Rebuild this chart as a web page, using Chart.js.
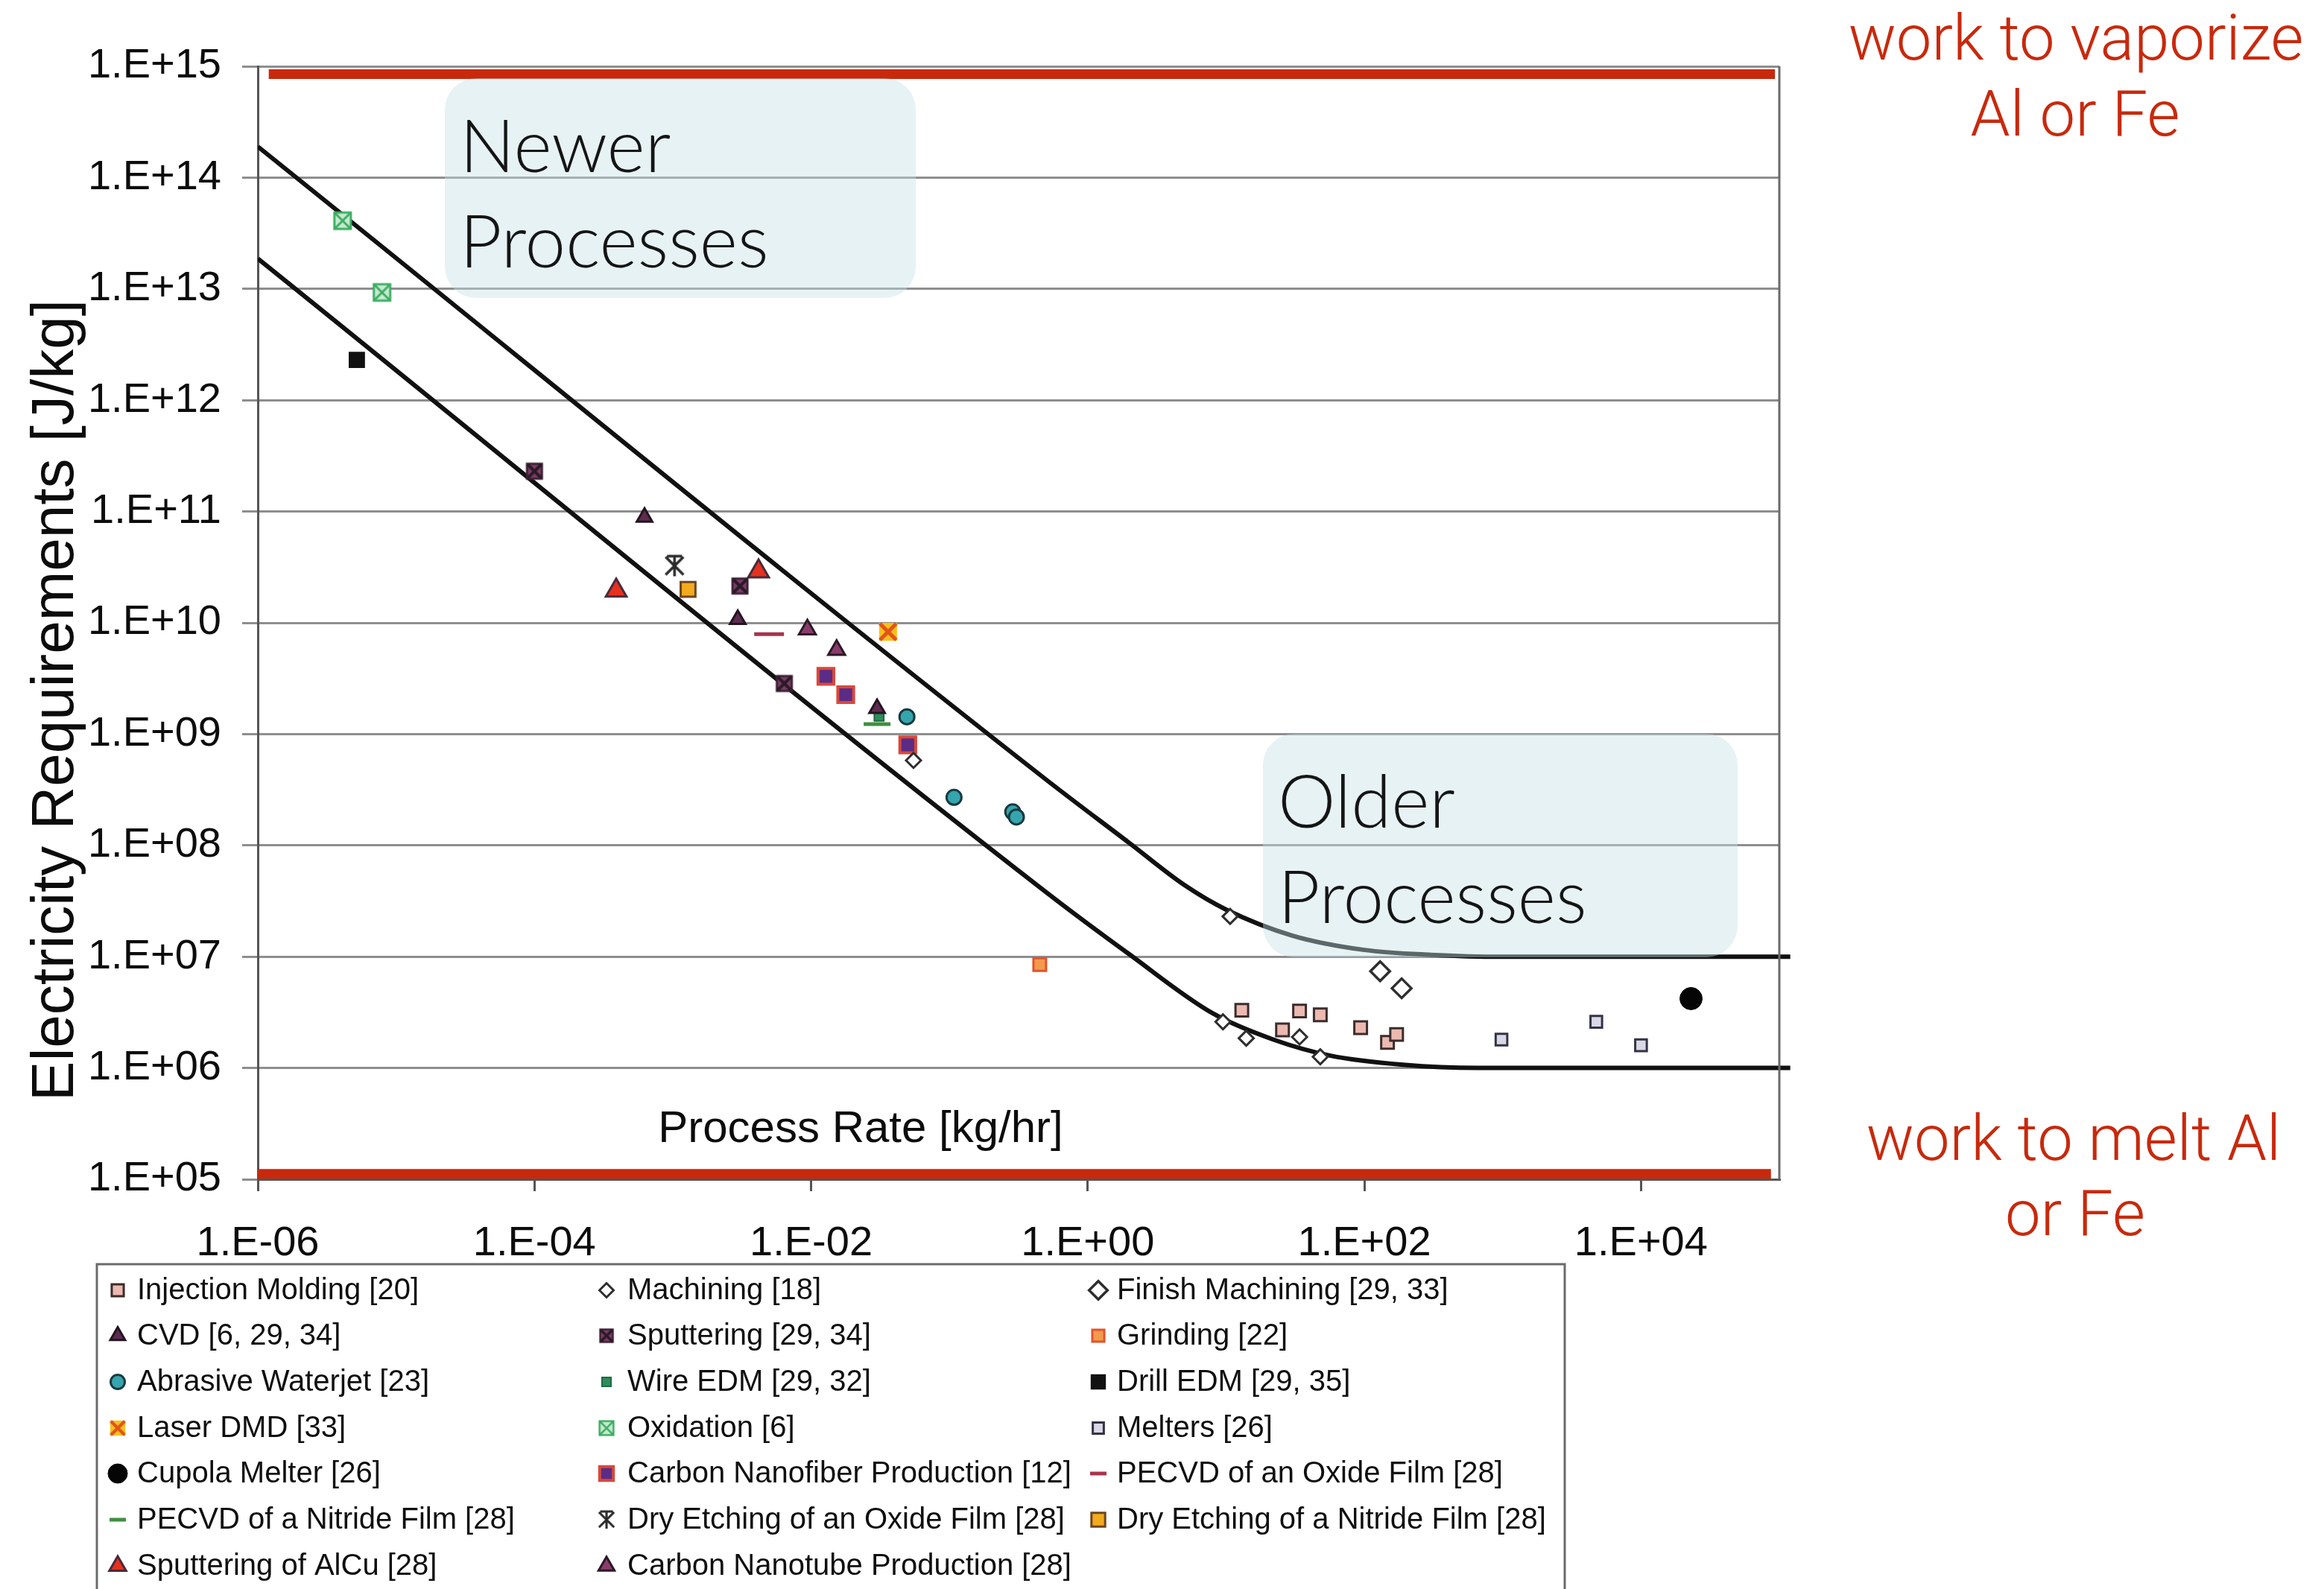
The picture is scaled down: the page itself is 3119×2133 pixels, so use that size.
<!DOCTYPE html>
<html>
<head>
<meta charset="utf-8">
<script src="https://cdn.jsdelivr.net/npm/chart.js@4.4.1/dist/chart.umd.min.js"></script>
<style>
  html, body { margin: 0; padding: 0; background: #ffffff; }
  canvas { display: block; }
</style>
</head>
<body>
<canvas id="chart" width="3119" height="2133"></canvas>
<script>
// Process rate [kg/hr] and electricity requirement [J/kg] for each manufacturing process.
const injectionMolding   = [[13, 3.3e6], [34, 3.25e6], [48, 3.0e6], [25.6, 2.2e6], [94, 2.3e6], [147, 1.7e6], [171, 2.0e6]];
const machining          = [[0.055, 5.8e8], [10.7, 2.3e7], [9.5, 2.6e6], [14, 1.85e6], [34, 1.9e6], [48, 1.26e6]];
const finishMachining    = [[130, 7.4e6], [186, 5.2e6]];
const cvd                = [[6.25e-4, 8.9e10], [2.95e-3, 1.07e10], [0.030, 1.7e9]];
const sputtering         = [[1.0e-4, 2.3e11], [3.06e-3, 2.14e10], [6.4e-3, 2.85e9]];
const grinding           = [[0.45, 8.5e6]];
const abrasiveWaterjet   = [[0.0493, 1.43e9], [0.108, 2.7e8], [0.287, 2.0e8], [0.305, 1.8e8]];
const wireEdm            = [[0.031, 1.45e9]];
const drillEdm           = [[5.2e-6, 2.3e12]];
const laserDmd           = [[0.036, 8.3e9]];
const oxidation          = [[4.1e-6, 4.1e13], [7.9e-6, 9.3e12]];
const melters            = [[980, 1.8e6], [4750, 2.6e6], [1.0e4, 1.6e6]];
const cupolaMelter       = [[2.3e4, 4.2e6]];
const carbonNanofiber    = [[0.0128, 3.3e9], [0.0178, 2.26e9], [0.05, 8.0e8]];
const pecvdOxide         = [[4.97e-3, 7.9e9]];
const pecvdNitride       = [[0.030, 1.23e9]];
const dryEtchOxide       = [[1.03e-3, 3.25e10]];
const dryEtchNitride     = [[1.29e-3, 2.0e10]];
const sputteringAlCu     = [[3.9e-4, 1.95e10], [4.17e-3, 2.9e10]];
const carbonNanotube     = [[9.4e-3, 8.7e9], [0.0153, 5.7e9]];

// Envelope curves bounding the data
const upperBound = [[1e-6, 1.9e14], [0.5, 3.9e8], [2, 1.05e8], [5, 4.4e7], [10, 2.65e7], [30, 1.55e7], [100, 1.15e7], [300, 1.04e7], [1000, 1.0e7], [1.2e5, 1.0e7]];
const lowerBound = [[1e-6, 1.87e13], [0.5, 3.8e7], [2, 1.05e7], [8, 3.1e6], [22, 1.8e6], [57, 1.29e6], [190, 1.07e6], [660, 1.0e6], [1.2e5, 1.0e6]];

// Reference levels: work to vaporize / work to melt Al or Fe
const vaporizeLevel = [[1.2e-6, 8.5e14], [9.3e4, 8.5e14]];
const meltLevel     = [[1.0e-6, 1.12e5], [8.7e4, 1.12e5]];

const seriesNames = [
  'Injection Molding [20]', 'Machining [18]', 'Finish Machining [29, 33]',
  'CVD [6, 29, 34]', 'Sputtering [29, 34]', 'Grinding [22]',
  'Abrasive Waterjet [23]', 'Wire EDM [29, 32]', 'Drill EDM [29, 35]',
  'Laser DMD [33]', 'Oxidation [6]', 'Melters [26]',
  'Cupola Melter [26]', 'Carbon Nanofiber Production [12]', 'PECVD of an Oxide Film [28]',
  'PECVD of a Nitride Film [28]', 'Dry Etching of an Oxide Film [28]', 'Dry Etching of a Nitride Film [28]',
  'Sputtering of AlCu [28]', 'Carbon Nanotube Production [28]'
];
const seriesData = [
  injectionMolding, machining, finishMachining,
  cvd, sputtering, grinding,
  abrasiveWaterjet, wireEdm, drillEdm,
  laserDmd, oxidation, melters,
  cupolaMelter, carbonNanofiber, pecvdOxide,
  pecvdNitride, dryEtchOxide, dryEtchNitride,
  sputteringAlCu, carbonNanotube
];

const xTickValues = [1e-6, 1e-4, 1e-2, 1, 1e2, 1e4];
const xTickLabels = ['1.E-06', '1.E-04', '1.E-02', '1.E+00', '1.E+02', '1.E+04'];
const yTickValues = [1e5, 1e6, 1e7, 1e8, 1e9, 1e10, 1e11, 1e12, 1e13, 1e14, 1e15];
const yTickLabels = ['1.E+05', '1.E+06', '1.E+07', '1.E+08', '1.E+09', '1.E+10', '1.E+11', '1.E+12', '1.E+13', '1.E+14', '1.E+15'];

const FONT = '"Liberation Sans", Arial, Helvetica, sans-serif';
const RED = '#c8290c';

// ---- composite marker glyphs ----
function glyph(size, paint) {
  const c = document.createElement('canvas');
  c.width = size; c.height = size;
  const g = c.getContext('2d');
  g.lineCap = 'butt';
  paint(g, size);
  return c;
}
function boxWithCross(size, fill, edge, cross, crossWidth) {
  return glyph(size, (g, s) => {
    const p = 3;
    g.fillStyle = fill;
    g.fillRect(p, p, s - 2 * p, s - 2 * p);
    if (edge) { g.strokeStyle = edge; g.lineWidth = 3; g.strokeRect(p, p, s - 2 * p, s - 2 * p); }
    g.strokeStyle = cross; g.lineWidth = crossWidth;
    g.beginPath();
    g.moveTo(p + 1, p + 1); g.lineTo(s - p - 1, s - p - 1);
    g.moveTo(s - p - 1, p + 1); g.lineTo(p + 1, s - p - 1);
    g.stroke();
  });
}
const sputterGlyph  = boxWithCross(26, '#7a3d68', '#3d2233', '#2b1a26', 4);
const laserGlyph    = boxWithCross(30, '#f6c21c', null, '#e2531b', 5);
const oxideGlyph    = boxWithCross(28, '#c6ead0', '#3cae62', '#3cae62', 3);
const asteriskGlyph = glyph(32, (g, s) => {
  g.strokeStyle = '#2a2a2a'; g.lineWidth = 3.5;
  g.beginPath();
  g.moveTo(4, 4); g.lineTo(s - 4, s - 4);
  g.moveTo(s - 4, 4); g.lineTo(4, s - 4);
  g.moveTo(s / 2, 2); g.lineTo(s / 2, s - 2);
  g.moveTo(6, 3); g.lineTo(s - 6, 3);
  g.stroke();
});

// Marker style per series (same order as seriesNames)
const seriesStyles = [
  { pointStyle: 'rect',     radius: 12, fill: '#ebb9b0', edge: '#3b2c2c', width: 3 },
  { pointStyle: 'rectRot',  radius: 10, fill: '#ffffff', edge: '#2e2e2e', width: 3 },
  { pointStyle: 'rectRot',  radius: 13, fill: '#ffffff', edge: '#2e2e2e', width: 3.5 },
  { pointStyle: 'triangle', radius: 12, fill: '#5c2c4f', edge: '#24141f', width: 3 },
  { pointStyle: sputterGlyph,  radius: 13, fill: '#7a3d68', edge: '#2b1a26', width: 0 },
  { pointStyle: 'rect',     radius: 12, fill: '#f39a4c', edge: '#e0532c', width: 3 },
  { pointStyle: 'circle',   radius: 10, fill: '#35a5ae', edge: '#173a40', width: 3 },
  { pointStyle: 'rect',     radius: 9,  fill: '#2f8c5a', edge: '#1f6a44', width: 2 },
  { pointStyle: 'rect',     radius: 14, fill: '#111111', edge: '#111111', width: 2 },
  { pointStyle: laserGlyph,    radius: 15, fill: '#f6c21c', edge: '#e2531b', width: 0 },
  { pointStyle: oxideGlyph,    radius: 14, fill: '#c6ead0', edge: '#3cae62', width: 0 },
  { pointStyle: 'rect',     radius: 11, fill: '#d8d8e6', edge: '#333344', width: 3 },
  { pointStyle: 'circle',   radius: 15, fill: '#050505', edge: '#050505', width: 1 },
  { pointStyle: 'rect',     radius: 15, fill: '#5b2c86', edge: '#d9483a', width: 4 },
  { pointStyle: 'line',     radius: 20, fill: '#a8334b', edge: '#a8334b', width: 5 },
  { pointStyle: 'line',     radius: 18, fill: '#3f8f3f', edge: '#3f8f3f', width: 5 },
  { pointStyle: asteriskGlyph, radius: 16, fill: '#2a2a2a', edge: '#2a2a2a', width: 0 },
  { pointStyle: 'rect',     radius: 14, fill: '#f2aa1e', edge: '#6e4420', width: 3 },
  { pointStyle: 'triangle', radius: 16, fill: '#e5311d', edge: '#4a2a3a', width: 3 },
  { pointStyle: 'triangle', radius: 13, fill: '#8b3b6c', edge: '#2a1a25', width: 3 }
];

const toXY = arr => arr.map(([x, y]) => ({ x, y }));

const pointSets = seriesData.map((arr, i) => {
  const st = seriesStyles[i];
  return {
    label: seriesNames[i],
    data: toXY(arr),
    showLine: false,
    pointStyle: st.pointStyle,
    pointRadius: st.radius,
    pointHoverRadius: st.radius,
    backgroundColor: st.fill,
    borderColor: st.edge,
    pointBorderWidth: st.width,
    borderWidth: st.width,
    order: 0
  };
});

const curveSet = (data, label) => ({
  label, data: toXY(data), showLine: true, pointRadius: 0, borderColor: '#111111',
  borderWidth: 6, cubicInterpolationMode: 'monotone', fill: false, order: 10,
  clip: { left: 0, top: 0, right: 20, bottom: 0 }
});
const levelSet = (data, label) => ({
  label, data: toXY(data), showLine: true, pointRadius: 0, borderColor: RED,
  borderWidth: 13, borderCapStyle: 'butt', fill: false, order: 5,
  clip: { left: 0, top: 10, right: 0, bottom: 10 }
});

const datasets = [
  ...pointSets,
  curveSet(upperBound, 'upper envelope'),
  curveSet(lowerBound, 'lower envelope'),
  levelSet(vaporizeLevel, 'work to vaporize Al or Fe'),
  levelSet(meltLevel, 'work to melt Al or Fe')
];

function roundRect(ctx, x, y, w, h, r) {
  ctx.beginPath();
  ctx.moveTo(x + r, y);
  ctx.arcTo(x + w, y, x + w, y + h, r);
  ctx.arcTo(x + w, y + h, x, y + h, r);
  ctx.arcTo(x, y + h, x, y, r);
  ctx.arcTo(x, y, x + w, y, r);
  ctx.closePath();
}

const decorations = {
  id: 'decorations',
  beforeDraw(chart) {
    const ctx = chart.ctx;
    ctx.save();
    ctx.fillStyle = '#ffffff';
    ctx.fillRect(0, 0, chart.width, chart.height);
    ctx.restore();
  },
  afterDatasetsDraw(chart) {
    const ctx = chart.ctx;
    const a = chart.chartArea;
    ctx.save();

    // right-hand frame of the plot
    ctx.strokeStyle = '#6a6a6a';
    ctx.lineWidth = 3;
    ctx.beginPath();
    ctx.moveTo(a.right, a.top);
    ctx.lineTo(a.right, a.bottom);
    ctx.stroke();

    // region call-outs
    const boxes = [
      { x: 597, y: 105, w: 632, h: 295, lines: ['Newer', 'Processes'] },
      { x: 1695, y: 985, w: 637, h: 300, lines: ['Older', 'Processes'] }
    ];
    for (const b of boxes) {
      ctx.fillStyle = 'rgba(198, 225, 230, 0.42)';
      roundRect(ctx, b.x, b.y, b.w, b.h, 42);
      ctx.fill();
      ctx.fillStyle = '#151515';
      ctx.font = '300 98px Lato, "Open Sans", sans-serif';
      ctx.textAlign = 'left';
      ctx.textBaseline = 'alphabetic';
      ctx.fillText(b.lines[0], b.x + 20, b.y + 126);
      ctx.fillText(b.lines[1], b.x + 20, b.y + 254);
    }

    // axis titles
    ctx.fillStyle = '#0c0c0c';
    ctx.font = '60px ' + FONT;
    ctx.textAlign = 'center';
    ctx.textBaseline = 'middle';
    ctx.fillText('Process Rate [kg/hr]', 1155, 1516);

    ctx.save();
    ctx.translate(76, 940);
    ctx.rotate(-Math.PI / 2);
    ctx.font = '80px ' + FONT;
    ctx.fillText('Electricity Requirements [J/kg]', 0, 0);
    ctx.restore();

    // level labels
    ctx.fillStyle = RED;
    ctx.font = '300 85px Roboto, ' + FONT;
    ctx.textAlign = 'center';
    ctx.textBaseline = 'alphabetic';
    ctx.fillText('work to vaporize', 2786, 80);
    ctx.fillText('Al or Fe', 2785, 182);
    ctx.fillText('work to melt Al', 2783, 1557);
    ctx.fillText('or Fe', 2785, 1658);

    // legend panel
    ctx.strokeStyle = '#6a6a6a';
    ctx.lineWidth = 3;
    ctx.strokeRect(130, 1697, 1970, 480);
    const colMarker = [158, 814, 1474];
    const colText = [184, 842, 1499];
    const rowY = [1732, 1793, 1855, 1917, 1978, 2040, 2102];
    ctx.font = '40px ' + FONT;
    ctx.textAlign = 'left';
    ctx.textBaseline = 'middle';
    seriesNames.forEach((name, i) => {
      const col = i % 3, row = Math.floor(i / 3);
      const st = seriesStyles[i];
      const mx = colMarker[col], my = rowY[row];
      if (typeof st.pointStyle === 'string') {
        ctx.fillStyle = st.fill;
        ctx.strokeStyle = st.edge;
        ctx.lineWidth = Math.max(st.width, 1);
        Chart.helpers.drawPoint(ctx, {
          pointStyle: st.pointStyle,
          radius: st.pointStyle === 'line' ? 11 : Math.min(st.radius * 0.95, 13),
          rotation: 0,
          borderWidth: Math.max(st.width, 1)
        }, mx, my);
      } else {
        const img = st.pointStyle;
        const s = 0.85;
        ctx.drawImage(img, mx - img.width * s / 2, my - img.height * s / 2, img.width * s, img.height * s);
      }
      ctx.fillStyle = '#0f0f0f';
      ctx.fillText(name, colText[col], my + 1);
    });

    ctx.restore();
  }
};

new Chart(document.getElementById('chart'), {
  type: 'scatter',
  data: { datasets },
  options: {
    responsive: false,
    animation: false,
    devicePixelRatio: 1,
    layout: { padding: { top: 89, right: 731, bottom: 0, left: 0 } },
    plugins: { legend: { display: false }, tooltip: { enabled: false }, title: { display: false } },
    scales: {
      x: {
        type: 'logarithmic',
        position: 'bottom',
        min: 1e-6,
        max: 1e5,
        afterBuildTicks: s => { s.ticks = xTickValues.map(v => ({ value: v })); },
        afterFit: s => { s.height = 550; },
        ticks: {
          callback: (v, i) => xTickLabels[i],
          font: { family: FONT, size: 56 },
          color: '#0c0c0c',
          padding: 37,
          maxRotation: 0,
          autoSkip: false
        },
        grid: { drawOnChartArea: false, drawTicks: true, tickLength: 16, color: '#555555', lineWidth: 3 },
        border: { display: true, color: '#555555', width: 3 }
      },
      y: {
        type: 'logarithmic',
        position: 'left',
        min: 1e5,
        max: 1e15,
        afterBuildTicks: s => { s.ticks = yTickValues.map(v => ({ value: v })); },
        afterFit: s => { s.width = 346; },
        ticks: {
          callback: (v, i) => yTickLabels[i],
          font: { family: FONT, size: 56 },
          color: '#0c0c0c',
          padding: 28,
          autoSkip: false
        },
        grid: { color: '#8e8e8e', lineWidth: 3, tickLength: 21, drawTicks: true },
        border: { display: true, color: '#555555', width: 3 }
      }
    }
  },
  plugins: [decorations]
});
</script>
</body>
</html>
